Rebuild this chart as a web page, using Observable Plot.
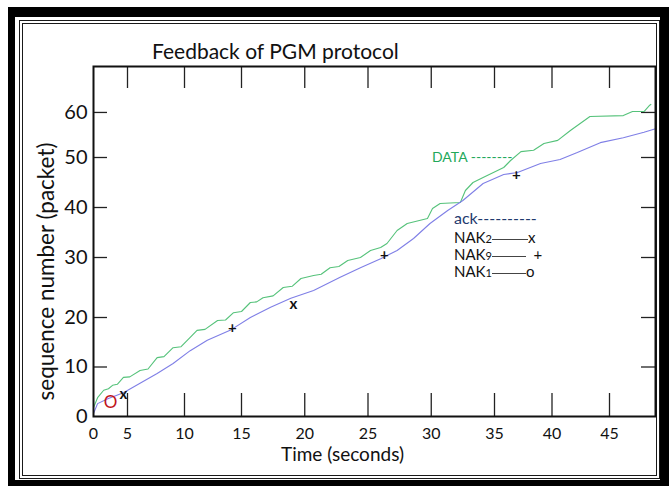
<!DOCTYPE html>
<html>
<head>
<meta charset="utf-8">
<script src="https://cdn.jsdelivr.net/npm/d3@7"></script>
<script src="https://cdn.jsdelivr.net/npm/@observablehq/plot@0.6"></script>
<style>
  html, body { margin: 0; padding: 0; background: #fff; }
  #wrap { position: relative; width: 669px; height: 486px; overflow: hidden; font-family: Lato, "Open Sans", sans-serif; }
  .b1 { position: absolute; left: 8px; top: 7px; right: 0; bottom: 0; border-style: solid; border-color: #000; border-width: 10px 9px 6px 7px; }
  .b2 { position: absolute; left: 19px; top: 20px; right: 9px; bottom: 7px; border: 4px double #1a1a1a; }
  #chart { position: absolute; left: 0; top: 0; }
  .abs { position: absolute; white-space: nowrap; line-height: 1; }
  .sub { font-size: 11px; }
  .ln { display: inline-block; border-top: 1px solid #444; vertical-align: middle; }
</style>
</head>
<body>
<div id="wrap">
  <div class="b1"></div>
  <div class="b2"></div>
  <div id="chart"></div>
  <div class="abs" id="title" style="left:152px; top:40px; font-size:21px; color:#111;">Feedback of PGM protocol</div>
  <div class="abs" style="left:432px; top:150px; font-size:14px; color:#22a85a;">DATA --------</div>
  <div class="abs" style="left:454px; top:210px; font-size:16px; color:#1f3a6e;">ack----------</div>
  <div class="abs" style="left:454px; top:230px; font-size:15px; color:#111;">NAK<span class="sub">2</span><span class="ln" style="width:36px"></span>x</div>
  <div class="abs" style="left:454px; top:247px; font-size:15px; color:#111;">NAK<span class="sub">9</span><span class="ln" style="width:34px"></span>&nbsp;&nbsp;+</div>
  <div class="abs" style="left:454px; top:264px; font-size:15px; color:#111;">NAK<span class="sub">1</span><span class="ln" style="width:34px"></span>o</div>
</div>
<script>
// DATA curve (time s, sequence number)
const dataTime = [0,0.6,1.5,2.2,2.8,3.5,4.4,5.2,6.1,6.8,7.6,8.2,9.0,9.7,10.5,11.1,11.8,12.9,13.6,14.3,15.0,15.7,16.2,16.7,17.5,18.3,19.0,19.7,20.7,21.3,22.0,22.7,23.4,24.4,25.2,26.0,26.5,27.3,28.1,29.7,30.1,30.7,32.3,32.7,33.3,34.1,35.8,36.4,37.3,38.4,39.3,40.5,41.6,43.3,46.2,47.0,48.0,48.5,48.6];
const dataSeq  = [1.8,3.8,5.3,5.6,6.3,6.5,7.9,8.0,9.3,9.6,11.9,12.1,13.9,14.1,16.0,17.4,17.6,19.4,19.5,20.8,21.0,22.5,22.6,23.3,23.6,25.0,25.2,26.5,27.0,27.2,28.3,28.5,29.5,30.0,31.4,32.0,32.8,35.4,36.8,37.8,39.8,40.8,41.0,43.4,45.0,46.0,48.0,49.4,51.3,51.6,53.1,53.8,56.0,59.1,59.3,60.2,60.2,61.6,61.8];
// ack curve
const ackTime = [0,0.6,2.1,4.4,6.1,7.6,9.0,10.5,12.0,14.0,15.7,17.3,18.9,20.7,22.8,24.4,26.0,27.3,28.6,29.9,31.3,32.5,34.1,35.8,37.0,39.0,40.7,42.2,44.2,46.2,48.0,49.0];
const ackSeq  = [0.6,2.6,3.6,4.8,6.7,8.7,10.7,13.3,15.4,17.4,20.0,21.7,23.2,24.5,26.7,28.3,29.8,31.4,33.8,36.8,39.4,41.4,44.8,46.6,47.0,48.8,49.6,51.1,53.3,54.4,55.6,56.4];
// NAK markers
const nak2Time = [4.4, 19.1];
const nak2Seq  = [4.6, 22.3];
const nak9Time = [14.2, 26.3, 36.9];
const nak9Seq  = [17.8, 30.4, 46.4];
const nak1Time = [2.5];
const nak1Seq  = [2.8];
// axes
const xTicks = [0,5,10,15,20,25,30,35,40,45];
const yTicks = [0,10,20,30,40,50,60];
const xLabel = "Time (seconds)";
const yLabel = "sequence number (packet)";

const zip = (a, b) => a.map((t, i) => ({t, v: b[i]}));
const dataPts = zip(dataTime, dataSeq);
const ackPts = zip(ackTime, ackSeq);
const nak2 = zip(nak2Time, nak2Seq);
const nak9 = zip(nak9Time, nak9Seq);
const nak1 = zip(nak1Time, nak1Seq);

const W = 669, H = 486;
const chart = Plot.plot({
  width: W, height: H,
  marginLeft: 93, marginRight: 14, marginTop: 66, marginBottom: 70,
  style: {background: "transparent", fontFamily: "Lato, 'Open Sans', sans-serif", color: "#111", overflow: "visible"},
  x: {type: "linear", domain: [0, 5, 15, 35, 49], range: [93, 127, 241, 494, 655]},
  y: {type: "linear", domain: [0, 20, 30, 50, 70.2], range: [416, 317, 257, 157, 66]},
  marks: [
    Plot.tickX(xTicks.slice(1), {x: d => d, stroke: "#222", strokeWidth: 1.3, insetTop: 327}),
    Plot.tickX(xTicks.slice(1), {x: d => d, stroke: "#222", strokeWidth: 1.3, insetBottom: 328}),
    Plot.tickY(yTicks.slice(1), {y: d => d, stroke: "#222", strokeWidth: 1.3, insetRight: 548}),
    Plot.tickY(yTicks.slice(1), {y: d => d, stroke: "#222", strokeWidth: 1.3, insetLeft: 548}),
    Plot.axisX({ticks: xTicks, tickSize: 0, tickPadding: 11, fontSize: 16, label: null}),
    Plot.axisY({ticks: yTicks, tickSize: 0, tickPadding: 6, fontSize: 20, label: null}),
    Plot.line(dataPts, {x: "t", y: "v", stroke: "#55c27a", strokeWidth: 1.1}),
    Plot.line(ackPts, {x: "t", y: "v", stroke: "#7f7fe6", strokeWidth: 1.1}),
    Plot.text(nak2, {x: "t", y: "v", text: () => "x", fontSize: 15, fontWeight: "bold", fill: "#111"}),
    Plot.text(nak9, {x: "t", y: "v", text: () => "+", fontSize: 15, fontWeight: "bold", fill: "#111"}),
    Plot.text(nak1, {x: "t", y: "v", text: () => "O", fontSize: 17, fill: "#c0141c"}),
    Plot.text([xLabel], {text: d => d, frameAnchor: "bottom", dx: -32, dy: 44, fontSize: 19}),
    Plot.text([yLabel], {text: d => d, frameAnchor: "left", textAnchor: "middle", rotate: -90, dx: -47, dy: 30, fontSize: 22.5}),
    Plot.frame({stroke: "#111", strokeWidth: 2})
  ]
});
document.getElementById("chart").appendChild(chart);
</script>
</body>
</html>
